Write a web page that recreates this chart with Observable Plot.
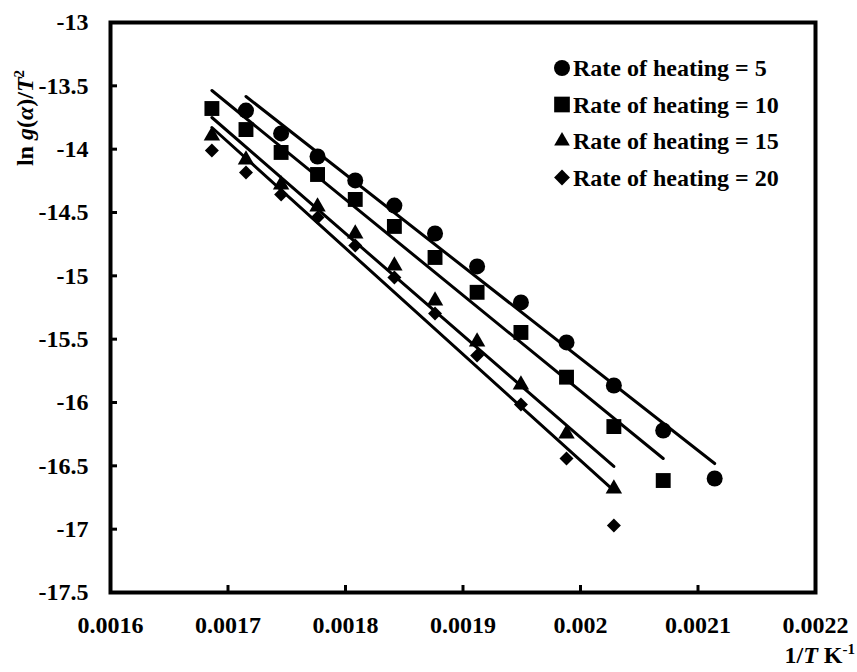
<!DOCTYPE html>
<html>
<head>
<meta charset="utf-8">
<script src="https://cdn.jsdelivr.net/npm/d3@7"></script>
<script src="https://cdn.jsdelivr.net/npm/@observablehq/plot@0.6"></script>
<style>
  html, body { margin: 0; padding: 0; background: #fff; }
  #chart { width: 857px; height: 672px; }
</style>
</head>
<body>
<div id="chart"></div>
<script>
// 1/T values (K^-1) of the measured temperatures
const invT = [0.0016863, 0.0017153, 0.0017452, 0.0017762, 0.0018083, 0.0018416, 0.0018762,
              0.0019120, 0.0019493, 0.0019881, 0.0020284, 0.0020704, 0.0021142];

// series: ln g(alpha)/T^2
const rate5X  = invT.slice(1, 13);
const rate5Y  = [-13.695, -13.876, -14.058, -14.247, -14.445, -14.666, -14.926, -15.21, -15.526, -15.866, -16.221, -16.6];
const rate10X = invT.slice(0, 12);
const rate10Y = [-13.679, -13.845, -14.026, -14.2, -14.397, -14.61, -14.855, -15.13, -15.447, -15.8, -16.19, -16.616];
const rate15X = invT.slice(0, 11);
const rate15Y = [-13.894, -14.084, -14.281, -14.455, -14.668, -14.921, -15.197, -15.521, -15.86, -16.247, -16.681];
const rate20X = invT.slice(0, 11);
const rate20Y = [-14.01, -14.184, -14.358, -14.54, -14.76, -15.013, -15.297, -15.629, -16.016, -16.442, -16.971];

// linear fit lines (end points)
const fit5  = {x: [0.0017153, 0.0021142], y: [-13.584, -16.482]};
const fit10 = {x: [0.0016863, 0.0020704], y: [-13.537, -16.442]};
const fit15 = {x: [0.0016863, 0.0020284], y: [-13.75, -16.505]};
const fit20 = {x: [0.0016863, 0.0020284], y: [-13.829, -16.695]};

const seriesNames = ["Rate of heating = 5", "Rate of heating = 10", "Rate of heating = 15", "Rate of heating = 20"];

const xTicks = [0.0016, 0.0017, 0.0018, 0.0019, 0.002, 0.0021, 0.0022];
const yTicks = [-13, -13.5, -14, -14.5, -15, -15.5, -16, -16.5, -17, -17.5];

const toRows = (xs, ys, s) => xs.map((x, i) => ({x, y: ys[i], s}));
const d5 = toRows(rate5X, rate5Y, 0);
const d10 = toRows(rate10X, rate10Y, 1);
const d15 = toRows(rate15X, rate15Y, 2);
const d20 = toRows(rate20X, rate20Y, 3);
const fits = [fit5, fit10, fit15, fit20].flatMap((f, s) => toRows(f.x, f.y, s));

const FONT = "'Liberation Serif', 'Times New Roman', serif";
const W = 857, H = 672, ML = 110, MR = 42, MT = 22, MB = 80;
const TICK = 7;

const svg = Plot.plot({
  width: W,
  height: H,
  marginLeft: ML,
  marginRight: MR,
  marginTop: MT,
  marginBottom: MB,
  style: {fontFamily: FONT, fontWeight: "bold", fontSize: "24px", color: "black", background: "white"},
  x: {domain: [0.0016, 0.0022]},
  y: {domain: [-17.5, -13]},
  marks: [
    Plot.dot(d5,  {x: "x", y: "y", symbol: "circle",   r: 8,    fill: "black"}),
    Plot.dot(d10, {x: "x", y: "y", symbol: "square",   r: 8.4,  fill: "black"}),
    Plot.dot(d15, {x: "x", y: "y", symbol: "triangle", r: 6.1,  fill: "black"}),
    Plot.dot(d20, {x: "x", y: "y", symbol: "diamond2", r: 6.3,  fill: "black"}),
    Plot.line(fits, {x: "x", y: "y", z: "s", stroke: "black", strokeWidth: 3}),
    Plot.tickX(xTicks, {x: d => d, stroke: "black", strokeWidth: 3, insetTop: (H - MT - MB) - TICK}),
    Plot.tickY(yTicks, {y: d => d, stroke: "black", strokeWidth: 3, insetRight: (W - ML - MR) - TICK}),
    Plot.axisX({ticks: xTicks, tickFormat: d => String(+d.toFixed(4)), tickSize: 0, tickPadding: 23, label: null}),
    Plot.axisY({ticks: yTicks, tickFormat: d => String(d), tickSize: 0, tickPadding: 22, label: null}),
    Plot.frame({stroke: "black", strokeWidth: 4})
  ]
});

document.getElementById("chart").appendChild(svg);

const s = d3.select(svg);

// y axis label
const yl = s.append("text")
  .attr("transform", "translate(33,118) rotate(-90)")
  .attr("text-anchor", "middle")
  .attr("font-family", FONT).attr("font-weight", "bold").attr("font-size", 24).attr("fill", "black");
yl.append("tspan").text("ln ");
yl.append("tspan").attr("font-style", "italic").text("g");
yl.append("tspan").text("(");
yl.append("tspan").attr("font-style", "italic").text("α");
yl.append("tspan").text(")/");
yl.append("tspan").attr("font-style", "italic").text("T");
yl.append("tspan").attr("font-size", 15).attr("dy", -9).text("2");

// x axis label
const xl = s.append("text")
  .attr("x", 855).attr("y", 663)
  .attr("text-anchor", "end")
  .attr("font-family", FONT).attr("font-weight", "bold").attr("font-size", 24).attr("fill", "black");
xl.append("tspan").text("1/");
xl.append("tspan").attr("font-style", "italic").text("T");
xl.append("tspan").text(" K");
xl.append("tspan").attr("font-size", 15).attr("dy", -9).text("-1");

// legend
const legSymbols = [
  [d3.symbolCircle, 201],
  [d3.symbolSquare, 246],
  [d3.symbolTriangle, 106],
  [d3.symbolDiamond2, 160]
];
const leg = s.append("g");
seriesNames.forEach((name, i) => {
  const cy = 68 + 36.5 * i;
  leg.append("path")
    .attr("d", d3.symbol(legSymbols[i][0], legSymbols[i][1])())
    .attr("transform", `translate(562,${cy})`)
    .attr("fill", "black");
  leg.append("text")
    .attr("x", 573).attr("y", cy + 8)
    .attr("text-anchor", "start")
    .attr("font-family", FONT).attr("font-weight", "bold").attr("font-size", 24).attr("fill", "black")
    .text(name);
});
</script>
</body>
</html>
